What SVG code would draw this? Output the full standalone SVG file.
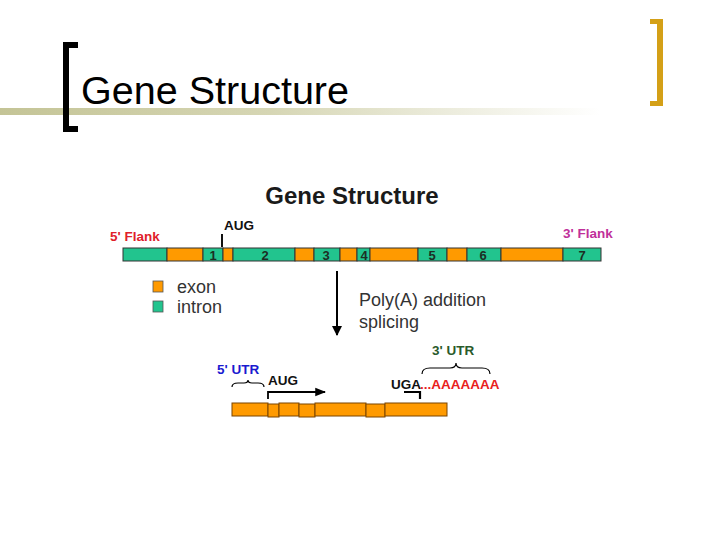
<svg xmlns="http://www.w3.org/2000/svg" width="720" height="540" viewBox="0 0 720 540">
<defs>
<linearGradient id="gl" x1="0" y1="0" x2="1" y2="0">
<stop offset="0" stop-color="#c4c496"/>
<stop offset="0.45" stop-color="#d6d6b4"/>
<stop offset="1" stop-color="#ffffff"/>
</linearGradient>
<marker id="ah" viewBox="0 0 10 10" refX="9" refY="5" markerWidth="5" markerHeight="5" orient="auto">
<path d="M0,0 L10,5 L0,10 z" fill="#000"/>
</marker>
<marker id="ahs" viewBox="0 0 10 10" refX="9" refY="5" markerWidth="6" markerHeight="6" orient="auto">
<path d="M0,1 L10,5 L0,9 z" fill="#000"/>
</marker>
<style>
.ex{fill:#ff9a00;stroke:#333;stroke-width:1}
.in{fill:#22c48e;stroke:#333;stroke-width:1}
.mr{fill:#ff9a00;stroke:#7a4400;stroke-width:1}
.num{font-family:"Liberation Sans",Arial,sans-serif;font-weight:bold;font-size:13px;fill:#1c2e24;text-anchor:middle}
.lb{font-family:"Liberation Sans",Arial,sans-serif;font-weight:bold;font-size:13.5px}
.rg{font-family:"Liberation Sans",Arial,sans-serif;font-size:18px;fill:#333}
</style>
</defs>
<rect width="720" height="540" fill="#fff"/>
<g id="header">
<rect x="0" y="108" width="600" height="7" fill="url(#gl)"/>
<path d="M78,42 H63 V132 H78 V126 H69 V48 H78 Z" fill="#000"/>
<path d="M650,19 H663 V106 H650 V101 H657 V24 H650 Z" fill="#d4a017"/>
<text x="81" y="104" font-family="Liberation Sans,Arial,sans-serif" font-size="38" fill="#000" textLength="268" lengthAdjust="spacingAndGlyphs">Gene Structure</text>
</g>
<g id="title">
<text x="352" y="204" text-anchor="middle" font-family="Liberation Sans,Arial,sans-serif" font-weight="bold" font-size="24" fill="#1a1a1a">Gene Structure</text>
</g>
<g id="gene">
<rect class="in" x="123" y="248" width="44" height="13"/>
<rect class="ex" x="167" y="248" width="36" height="13"/>
<rect class="in" x="203" y="248" width="20" height="13"/>
<rect class="ex" x="223" y="248" width="10" height="13"/>
<rect class="in" x="233" y="248" width="62" height="13"/>
<rect class="ex" x="295" y="248" width="19" height="13"/>
<rect class="in" x="314" y="248" width="26" height="13"/>
<rect class="ex" x="340" y="248" width="17" height="13"/>
<rect class="in" x="357" y="248" width="13" height="13"/>
<rect class="ex" x="370" y="248" width="48" height="13"/>
<rect class="in" x="418" y="248" width="29" height="13"/>
<rect class="ex" x="447" y="248" width="20" height="13"/>
<rect class="in" x="467" y="248" width="34" height="13"/>
<rect class="ex" x="501" y="248" width="62" height="13"/>
<rect class="in" x="563" y="248" width="38" height="13"/>
<text class="num" x="213" y="260">1</text>
<text class="num" x="265" y="260">2</text>
<text class="num" x="326" y="260">3</text>
<text class="num" x="364" y="260">4</text>
<text class="num" x="432" y="260">5</text>
<text class="num" x="483" y="260">6</text>
<text class="num" x="582" y="260">7</text>
</g>
<g id="gene-labels">
<text class="lb" x="110" y="241" fill="#e0202a">5' Flank</text>
<text class="lb" x="563" y="238" fill="#c0309a">3' Flank</text>
<text class="lb" x="224" y="230" fill="#111">AUG</text>
<line x1="222" y1="234" x2="222" y2="247" stroke="#111" stroke-width="2"/>
</g>
<g id="legend">
<rect x="153" y="281" width="10" height="11" fill="#ff9a00" stroke="#555" stroke-width="0.8"/>
<text class="rg" x="177" y="293">exon</text>
<rect x="153" y="301" width="10" height="11" fill="#22c48e" stroke="#555" stroke-width="0.8"/>
<text class="rg" x="177" y="313">intron</text>
</g>
<g id="connectors">
<line x1="337" y1="271" x2="337" y2="335" stroke="#000" stroke-width="2" marker-end="url(#ah)"/>
</g>
<g id="process-label">
<text class="rg" x="359" y="306">Poly(A) addition</text>
<text class="rg" x="359" y="328">splicing</text>
</g>
<g id="mrna">
<rect class="mr" x="232" y="403" width="36" height="13"/>
<rect class="mr" x="268" y="404" width="11" height="13"/>
<rect class="mr" x="279" y="403" width="20" height="13"/>
<rect class="mr" x="299" y="404" width="16" height="13"/>
<rect class="mr" x="315" y="403" width="51" height="13"/>
<rect class="mr" x="366" y="404" width="19" height="13"/>
<rect class="mr" x="385" y="403" width="62" height="13"/>
</g>
<g id="mrna-labels">
<text class="lb" x="217" y="374" fill="#1a1ad0">5' UTR</text>
<path d="M232,387 Q232,383 238,383 L244,383 Q248,383 248,380 Q248,383 252,383 L258,383 Q264,383 264,387" fill="none" stroke="#000" stroke-width="1.2"/>
<text class="lb" x="268" y="385" fill="#111">AUG</text>
<path d="M268,399 V392 H325" fill="none" stroke="#000" stroke-width="1.8" marker-end="url(#ahs)"/>
<text class="lb" x="391" y="389" fill="#111">UGA</text>
<text class="lb" x="420" y="389" fill="#e82020">...AAAAAAA</text>
<path d="M404,392 H420 V399" fill="none" stroke="#000" stroke-width="2.2"/>
<text class="lb" x="432" y="355" fill="#2a5a2a">3' UTR</text>
<path d="M422,374 Q422,368 430,368 L450,368 Q456,368 456,363 Q456,368 462,368 L482,368 Q490,368 490,374" fill="none" stroke="#000" stroke-width="1.2"/>
</g>
</svg>
